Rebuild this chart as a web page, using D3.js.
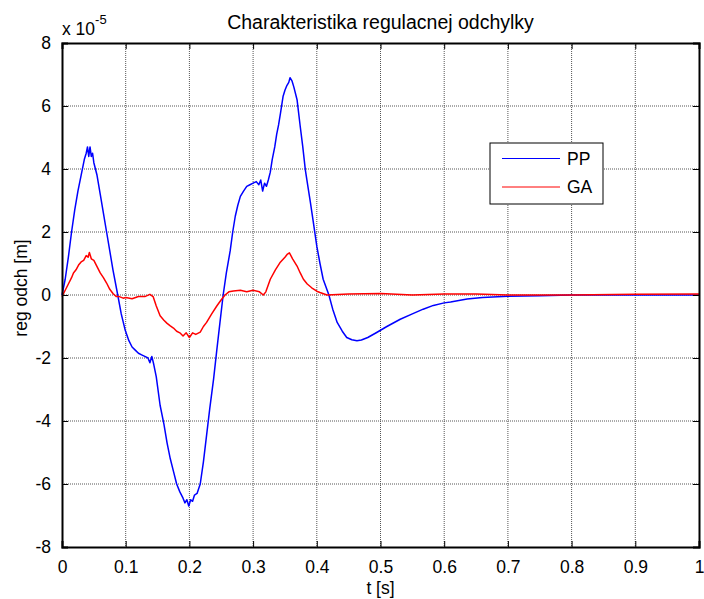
<!DOCTYPE html>
<html>
<head>
<meta charset="utf-8">
<script src="https://cdn.jsdelivr.net/npm/d3@7"></script>
<style>
  body { margin: 0; background: #fff; }
  text { font-family: "Liberation Sans", Arial, sans-serif; fill: #000; }
</style>
</head>
<body>
<svg id="chart" width="704" height="599"></svg>
<script>
// values in units of 1e-5 m
const ppT = [0, 0.005, 0.01, 0.015, 0.02, 0.025, 0.03, 0.035, 0.038, 0.040, 0.042, 0.044, 0.046, 0.048, 0.05,
  0.055, 0.06, 0.065, 0.07, 0.075, 0.08, 0.0875, 0.093, 0.099, 0.105, 0.11, 0.115, 0.12, 0.125, 0.13, 0.135,
  0.138, 0.141, 0.144, 0.148, 0.154, 0.16, 0.165, 0.17, 0.175, 0.18, 0.185, 0.19, 0.193, 0.196, 0.199, 0.202,
  0.205, 0.208, 0.212, 0.217, 0.222, 0.227, 0.232, 0.238, 0.243, 0.248, 0.253, 0.258, 0.264, 0.268, 0.272,
  0.276, 0.28, 0.285, 0.29, 0.295, 0.3, 0.305, 0.309, 0.312, 0.315, 0.318, 0.321, 0.324, 0.327, 0.33, 0.334,
  0.337, 0.34, 0.343, 0.347, 0.35, 0.353, 0.356, 0.358, 0.361, 0.364, 0.369, 0.374, 0.378, 0.382, 0.386, 0.39,
  0.395, 0.4, 0.405, 0.41, 0.419, 0.425, 0.432, 0.44, 0.447, 0.455, 0.463, 0.47, 0.48, 0.494, 0.51, 0.531,
  0.55, 0.567, 0.583, 0.6, 0.61, 0.636, 0.66, 0.7, 0.75, 0.8, 0.9, 1.0];
const ppV = [0, 0.5, 1.2, 2.0, 2.7, 3.3, 3.8, 4.3, 4.5, 4.7, 4.4, 4.7, 4.4, 4.5, 4.2,
  3.8, 3.2, 2.6, 2.0, 1.4, 0.8, 0, -0.6, -1.1, -1.45, -1.65, -1.75, -1.85, -1.9, -1.95, -2.0,
  -2.15, -1.95, -2.2, -2.6, -3.5, -4.1, -4.7, -5.2, -5.6, -6.0, -6.25, -6.45, -6.6, -6.5, -6.7, -6.5,
  -6.55, -6.35, -6.3, -6.0, -5.3, -4.45, -3.6, -2.66, -1.75, -0.87, 0, 0.7, 1.4, 2.0, 2.5,
  2.85, 3.13, 3.3, 3.45, 3.5, 3.55, 3.6, 3.5, 3.65, 3.3, 3.55, 3.45, 3.66, 3.9, 4.3, 4.7,
  5.1, 5.4, 5.77, 6.3, 6.5, 6.65, 6.75, 6.9, 6.8, 6.6, 6.2, 5.35, 4.7, 3.97, 3.45, 2.93,
  2.25, 1.55, 1.0, 0.5, 0, -0.45, -0.87, -1.15, -1.35, -1.42, -1.45, -1.43, -1.35, -1.19, -1.0, -0.77,
  -0.6, -0.45, -0.33, -0.25, -0.22, -0.13, -0.08, -0.04, -0.02, 0, 0, 0];

const gaT = [0, 0.005, 0.01, 0.015, 0.018, 0.022, 0.026, 0.03, 0.034, 0.038, 0.041, 0.043, 0.046, 0.05, 0.055,
  0.06, 0.065, 0.07, 0.075, 0.08, 0.085, 0.09, 0.096, 0.1, 0.11, 0.12, 0.13, 0.138, 0.143, 0.148, 0.154,
  0.16, 0.165, 0.17, 0.175, 0.18, 0.185, 0.19, 0.195, 0.2, 0.205, 0.21, 0.217, 0.222, 0.227, 0.235, 0.243,
  0.25, 0.256, 0.262, 0.269, 0.28, 0.29, 0.3, 0.31, 0.316, 0.32, 0.327, 0.335, 0.342, 0.35, 0.354, 0.357,
  0.362, 0.369, 0.374, 0.379, 0.385, 0.392, 0.4, 0.405, 0.416, 0.45, 0.5, 0.55, 0.6, 0.65, 0.7, 0.8, 0.9, 1.0];
const gaV = [-0.05, 0.15, 0.35, 0.55, 0.7, 0.8, 0.95, 1.05, 1.1, 1.25, 1.2, 1.35, 1.15, 1.1, 0.9,
  0.7, 0.55, 0.38, 0.18, 0.05, -0.05, -0.05, -0.1, -0.08, -0.12, -0.05, -0.05, 0.02, -0.05, -0.35, -0.66,
  -0.8, -0.9, -0.98, -1.05, -1.15, -1.2, -1.3, -1.2, -1.35, -1.2, -1.25, -1.18, -1.0, -0.87, -0.6, -0.35,
  -0.15, 0, 0.1, 0.13, 0.15, 0.1, 0.15, 0.1, 0, 0.1, 0.5, 0.8, 1.02, 1.2, 1.3, 1.34,
  1.15, 0.92, 0.7, 0.5, 0.35, 0.23, 0.12, 0.08, 0, 0.03, 0.05, 0, 0.03, 0.03, 0, 0, 0.02, 0.03];

const xTicks = [0, 0.1, 0.2, 0.3, 0.4, 0.5, 0.6, 0.7, 0.8, 0.9, 1];
const yTicks = [-8, -6, -4, -2, 0, 2, 4, 6, 8];
const seriesNames = ["PP", "GA"];
const seriesColors = ["#0000ff", "#ff0000"];

const margin = { top: 43, right: 5, bottom: 52, left: 62 };
const width = 704 - margin.left - margin.right;
const height = 599 - margin.top - margin.bottom;
const fs = 17.5;

const svg = d3.select("#chart");
const g = svg.append("g").attr("transform", `translate(${margin.left},${margin.top})`);

const x = d3.scaleLinear().domain([0, 1]).range([0, width]);
const y = d3.scaleLinear().domain([-8, 8]).range([height, 0]);

// grid
g.append("g").selectAll("line").data(xTicks.slice(1, -1)).join("line")
  .attr("x1", d => x(d)).attr("x2", d => x(d)).attr("y1", 0).attr("y2", height)
  .attr("stroke", "#555").attr("stroke-width", 1).attr("stroke-dasharray", "1,1");
g.append("g").selectAll("line").data(yTicks.slice(1, -1)).join("line")
  .attr("y1", d => y(d)).attr("y2", d => y(d)).attr("x1", 0).attr("x2", width)
  .attr("stroke", "#555").attr("stroke-width", 1).attr("stroke-dasharray", "1,1");

// lines
const line = d3.line().x(d => x(d[0])).y(d => y(d[1]));
const series = [
  d3.zip(ppT, ppV),
  d3.zip(gaT, gaV)
];
series.forEach((s, i) => {
  g.append("path").datum(s)
    .attr("d", line)
    .attr("fill", "none")
    .attr("stroke", seriesColors[i])
    .attr("stroke-width", 1.5)
    .attr("stroke-linejoin", "round");
});

// axes (ticks inward, box)
const tl = 6;
const plain = d => String(d);
const axB = g.append("g").attr("transform", `translate(0,${height})`)
  .call(d3.axisBottom(x).tickValues(xTicks).tickSize(-tl).tickPadding(tl + 8).tickFormat(plain));
const axT = g.append("g")
  .call(d3.axisTop(x).tickValues(xTicks).tickSize(-tl).tickFormat(""));
const axL = g.append("g")
  .call(d3.axisLeft(y).tickValues(yTicks).tickSize(-tl).tickPadding(tl + 5).tickFormat(plain));
const axR = g.append("g").attr("transform", `translate(${width},0)`)
  .call(d3.axisRight(y).tickValues(yTicks).tickSize(-tl).tickFormat(""));

[axB, axT, axL, axR].forEach(a => {
  a.select(".domain").attr("stroke", "#000").attr("stroke-width", 2);
  a.selectAll(".tick line").attr("stroke", "#000").attr("stroke-width", 1);
  a.selectAll("text").attr("font-size", fs).attr("font-family", "Liberation Sans, Arial, sans-serif").attr("fill", "#000");
});
axB.selectAll("text").attr("dy", "0.71em");

// exponent label
const expLabel = svg.append("text").attr("x", margin.left).attr("y", 35).attr("font-size", fs);
expLabel.append("tspan").text("x 10");
expLabel.append("tspan").text("-5").attr("font-size", 13).attr("dy", -11);

// title
svg.append("text")
  .attr("x", margin.left + width / 2).attr("y", 29)
  .attr("text-anchor", "middle").attr("font-size", 19.5)
  .text("Charakteristika regulacnej odchylky");

// axis labels
svg.append("text")
  .attr("x", margin.left + width / 2).attr("y", 594)
  .attr("text-anchor", "middle").attr("font-size", fs)
  .text("t [s]");
svg.append("text")
  .attr("transform", `translate(27,${margin.top + height / 2 - 7}) rotate(-90)`)
  .attr("text-anchor", "middle").attr("font-size", fs)
  .text("reg odch [m]");

// legend
const legend = svg.append("g").attr("transform", "translate(490,143)");
legend.append("rect").attr("width", 113).attr("height", 61)
  .attr("fill", "#fff").attr("stroke", "#000").attr("stroke-width", 1);
seriesNames.forEach((name, i) => {
  const ly = 15.5 + i * 28.5;
  legend.append("line").attr("x1", 12).attr("x2", 70).attr("y1", ly).attr("y2", ly)
    .attr("stroke", seriesColors[i]).attr("stroke-width", 1);
  legend.append("text").attr("x", 77).attr("y", ly).attr("dy", "0.36em")
    .attr("font-size", fs).text(name);
});
</script>
</body>
</html>
